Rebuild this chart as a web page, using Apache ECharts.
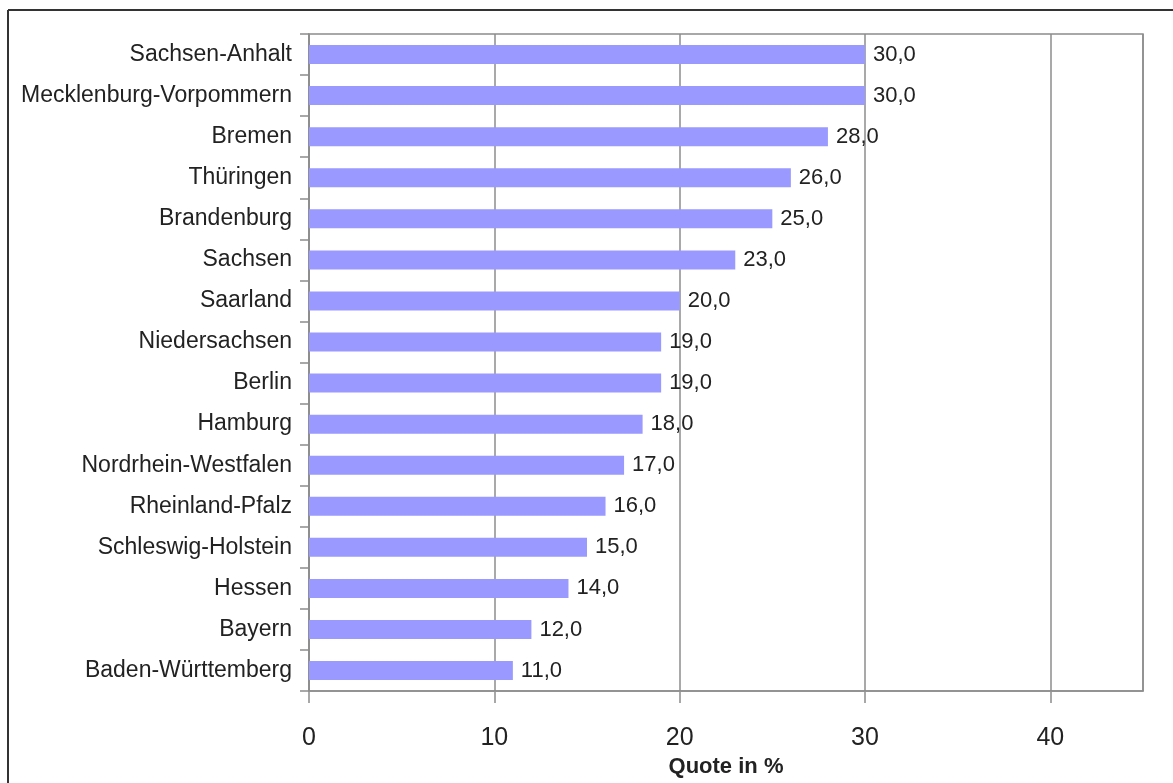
<!DOCTYPE html>
<html>
<head>
<meta charset="utf-8">
<script src="https://cdn.jsdelivr.net/npm/echarts@6/dist/echarts.min.js"></script>
<style>
html,body{margin:0;padding:0;background:#fff;}
#chart{width:1173px;height:783px;}
</style>
</head>
<body>
<div id="chart"></div>
<script>
// Categories listed top to bottom
var categories = ['Sachsen-Anhalt','Mecklenburg-Vorpommern','Bremen','Thüringen','Brandenburg','Sachsen','Saarland','Niedersachsen','Berlin','Hamburg','Nordrhein-Westfalen','Rheinland-Pfalz','Schleswig-Holstein','Hessen','Bayern','Baden-Württemberg'];
var values = [30,30,28,26,25,23,20,19,19,18,17,16,15,14,12,11];
var axisMax = 45;
var tickMax = 40;
var axisTitle = 'Quote in %';

var chart = echarts.init(document.getElementById('chart'));
var gray = '#8c8c8c';
var plotLeft = 309, plotRight = 30, W = 1173;
var plotWidth = W - plotLeft - plotRight;
chart.setOption({
  animation:false,
  backgroundColor:'#fff',
  textStyle:{fontFamily:'"Liberation Sans", Arial, sans-serif'},
  graphic:[
    {type:'line', shape:{x1:8,y1:10,x2:1173,y2:10}, style:{stroke:'#333',lineWidth:2}},
    {type:'line', shape:{x1:8,y1:10,x2:8,y2:783}, style:{stroke:'#333',lineWidth:2}}
  ],
  grid:[
    {left:plotLeft,right:plotRight,top:34,bottom:91,show:true,borderColor:gray,borderWidth:1.5,backgroundColor:'transparent'},
    {left:plotLeft,width:plotWidth*tickMax/axisMax,top:34,bottom:91,show:false}
  ],
  xAxis:[{
    type:'value', min:0, max:axisMax, interval:10, gridIndex:0,
    name:axisTitle, nameLocation:'middle', nameGap:60,
    nameTextStyle:{fontSize:22,fontWeight:'bold',color:'#222'},
    axisLine:{show:true,lineStyle:{color:gray,width:1.5}},
    axisTick:{show:false},
    axisLabel:{fontSize:25,color:'#222',margin:35,
      formatter:function(v){return v===axisMax?'':String(v);}},
    splitLine:{show:true,lineStyle:{color:gray,width:1.5}}
  },{
    type:'value', min:0, max:tickMax, interval:10, gridIndex:1,
    axisLine:{show:false},
    axisTick:{show:true,length:11,lineStyle:{color:gray,width:1.5}},
    axisLabel:{show:false},
    splitLine:{show:false}
  }],
  yAxis:[{
    type:'category', data:categories, inverse:true, gridIndex:0,
    axisLine:{show:true,lineStyle:{color:gray,width:1.5}},
    axisTick:{show:true,length:9,lineStyle:{color:gray,width:1.5}},
    axisLabel:{fontSize:23,color:'#222',margin:17}
  },{
    type:'category', data:categories, inverse:true, gridIndex:1, show:false
  }],
  series:[{
    type:'bar', data:values, barWidth:19, xAxisIndex:0, yAxisIndex:0,
    itemStyle:{color:'#9999FF'},
    label:{show:true,position:'right',distance:8,fontSize:22,color:'#222',
      formatter:function(p){return p.value.toFixed(1).replace('.',',');}}
  }]
});
</script>
</body>
</html>
